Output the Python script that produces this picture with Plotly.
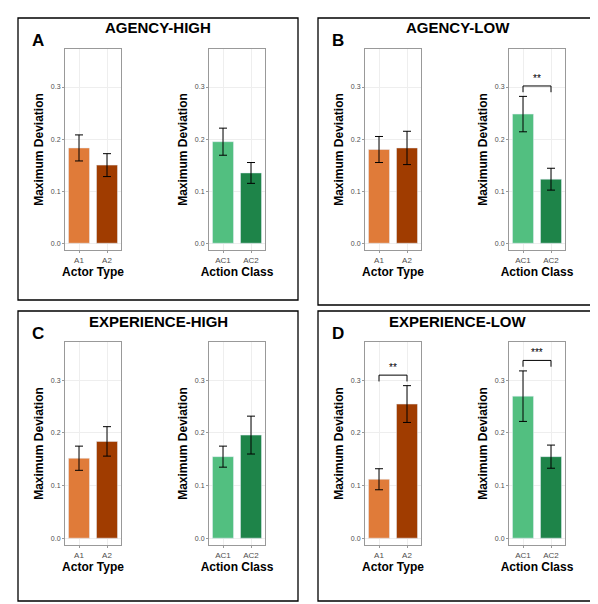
import plotly.graph_objects as go

W, H = 598, 604
actor_cats = ["A1", "A2"]
action_cats = ["AC1", "AC2"]
actor_colors = ["#E07B39", "#A03C00"]
action_colors = ["#52BF80", "#1E8449"]

panels = ["AGENCY-HIGH", "AGENCY-LOW", "EXPERIENCE-HIGH", "EXPERIENCE-LOW"]
letters = ["A", "B", "C", "D"]
actor_vals = [[0.183, 0.150], [0.180, 0.183], [0.152, 0.184], [0.112, 0.255]]
actor_err = [[0.025, 0.022], [0.025, 0.032], [0.023, 0.028], [0.020, 0.035]]
action_vals = [[0.195, 0.135], [0.248, 0.123], [0.155, 0.196], [0.270, 0.155]]
action_err = [[0.026, 0.020], [0.034, 0.021], [0.020, 0.036], [0.048, 0.022]]
sig = [(1, 1, "**"), (3, 0, "**"), (3, 1, "***")]

boxes = [(10, 10, 290, 292), (310, 10, 590, 297), (10, 303, 290, 593), (310, 303, 590, 593)]
plot_x = [[(57, 113), (201, 257)], [(357, 413), (501, 557)]]
plot_y = [(41, 242), (334, 537)]

fig = go.Figure()
layout = {}
shapes, annots = [], []
n = 0
for p in range(4):
    col, row = p % 2, p // 2
    bx0, by0, bx1, by1 = boxes[p]
    shapes.append(dict(type="rect", xref="paper", yref="paper",
                       x0=bx0 / W, x1=bx1 / W, y0=1 - by1 / H, y1=1 - by0 / H,
                       line=dict(color="black", width=1.3)))
    annots.append(dict(text="<b>%s</b>" % letters[p], x=(bx0 + 12) / W, y=1 - (by0 + 22) / H,
                       xref="paper", yref="paper", showarrow=False, xanchor="left", yanchor="middle",
                       font=dict(size=17, color="black")))
    annots.append(dict(text="<b>%s</b>" % panels[p], x=(bx0 + bx1) / 2 / W, y=1 - (by0 + 10) / H,
                       xref="paper", yref="paper", showarrow=False, xanchor="center", yanchor="middle",
                       font=dict(size=15, color="black")))
    for s in range(2):
        n += 1
        cats = actor_cats if s == 0 else action_cats
        vals = actor_vals[p] if s == 0 else action_vals[p]
        errs = actor_err[p] if s == 0 else action_err[p]
        cols = actor_colors if s == 0 else action_colors
        xt = "Actor Type" if s == 0 else "Action Class"
        xa, ya = "x%d" % n, "y%d" % n
        fig.add_trace(go.Bar(x=cats, y=vals, marker_color=cols, width=0.75,
                             error_y=dict(type="data", array=errs, color="black", thickness=1, width=4),
                             xaxis=xa, yaxis=ya, showlegend=False))
        x0, x1 = plot_x[col][s]
        y0, y1 = plot_y[row]
        layout["xaxis%d" % n] = dict(domain=[x0 / W, x1 / W], anchor=ya,
                                     title=dict(text="<b>%s</b>" % xt, font=dict(size=12, color="black"), standoff=2),
                                     tickfont=dict(size=8, color="#4d4d4d"), showline=True, mirror=True,
                                     linecolor="#999", linewidth=1, showgrid=True, gridcolor="#eee",
                                     ticks="outside", ticklen=2, tickcolor="#999")
        layout["yaxis%d" % n] = dict(domain=[1 - y1 / H, 1 - y0 / H], anchor=xa, range=[-0.013, 0.373],
                                     tickvals=[0, 0.1, 0.2, 0.3], ticktext=["0.0", "0.1", "0.2", "0.3"],
                                     title=dict(text="<b>Maximum Deviation</b>", font=dict(size=12, color="black"), standoff=4),
                                     tickfont=dict(size=7, color="#4d4d4d"), showline=True, mirror=True,
                                     linecolor="#999", linewidth=1, showgrid=True, gridcolor="#eee",
                                     zeroline=False, ticks="outside", ticklen=2, tickcolor="#999")
        for (sp, ss, lab) in sig:
            if sp == p and ss == s:
                top = max(v + e for v, e in zip(vals, errs)) + 0.02
                for (a, b, c, d) in [(cats[0], top - 0.012, cats[0], top), (cats[0], top, cats[1], top), (cats[1], top, cats[1], top - 0.012)]:
                    shapes.append(dict(type="line", xref=xa, yref=ya, x0=a, y0=b, x1=c, y1=d,
                                       line=dict(color="black", width=1)))
                annots.append(dict(text=lab, x=0.5, y=top, xref=xa, yref=ya, showarrow=False,
                                   yanchor="bottom", font=dict(size=10, color="black")))

fig.update_layout(width=W, height=H, margin=dict(l=0, r=0, t=0, b=0),
                  paper_bgcolor="white", plot_bgcolor="white",
                  font=dict(family="Liberation Sans, Arial"), bargap=0.25,
                  shapes=shapes, annotations=annots, **layout)
fig.write_html("out.html")
